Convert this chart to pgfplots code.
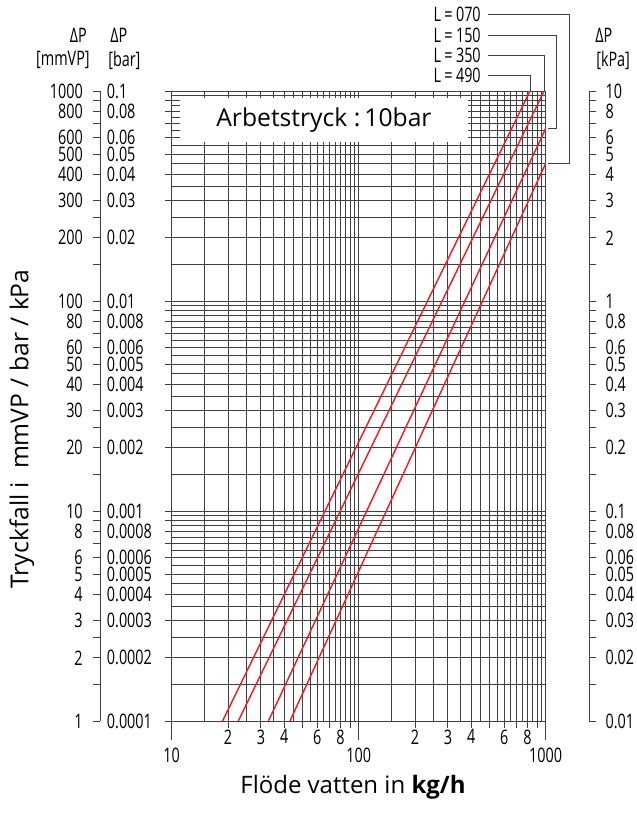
\documentclass[border=0pt]{standalone}
\usepackage{pgfplots}
\pgfplotsset{compat=1.18}
\usepackage{fontspec}
\setmainfont{Open Sans}
\newfontfamily\condfont[FakeStretch=0.72]{Open Sans}
\definecolor{gridc}{gray}{0.25}
\definecolor{redl}{RGB}{240,30,36}
\newcommand\tickfont{\condfont\fontsize{15}{16}\selectfont}
\begin{document}
\begin{tikzpicture}
\begin{scope}[x=0.75pt,y=0.75pt]
\path (0,0) rectangle (636,814);
\end{scope}
% ---------------- main chart ----------------
\begin{axis}[
  at={(128.775pt,69.75pt)}, anchor=south west,
  scale only axis, width=280.5pt, height=472.5pt,
  xmode=log, ymode=log, xmin=10, xmax=1000, ymin=1, ymax=1000,
  clip=false,
  axis line style={gridc, line width=0.7pt},
  every tick/.style={gridc, line width=0.7pt},
  tick align=outside,
  xtick pos=bottom, ytick pos=left,
  xtick={20,30,40,50,60,70,80,90,200,300,400,500,600,700,800,900},
  xticklabels={2,3,4,,6,,8,,2,3,4,,6,,8,},
  ytick={1,2,3,4,5,6,7,8,9,10,20,30,40,50,60,70,80,90,100,200,300,400,500,600,700,800,900,1000},
  yticklabels={},
  major tick length=5.25pt,
  minor tick length=0pt,
  minor xtick={15,25,35,45,55,65,75,85,95,150,250,350,450,550,650,750,850,950},
  minor ytick={1.5,2.5,3.5,4.5,5.5,6.5,7.5,8.5,9.5,15,25,35,45,55,65,75,85,95,150,250,350,450,550,650,750,850,950},
  grid=both,
  major grid style={gridc, line width=0.65pt},
  minor grid style={gridc, line width=0.65pt},
  xticklabel style={font=\tickfont, inner sep=1pt},
  extra x ticks={10,100,1000},
  extra x tick labels={10,100,1000},
  extra x tick style={grid=major, major tick length=14.25pt, xticklabel style={font=\tickfont, inner sep=1pt, yshift=-4.5pt}},
]
\fill[white] (axis cs:11.1,572) rectangle (axis cs:384,926);
\node[font=\fontsize{18.5}{20}\selectfont] at (axis cs:65.2,728) {Arbetstryck :\,10bar};
\addplot[redl, line width=1.1pt] coordinates {(18.7,1) (824,1000)};  % L=490
\addplot[redl, line width=1.1pt] coordinates {(22.7,1) (980,1000)};  % L=350
\addplot[redl, line width=1.1pt] coordinates {(32.9,1) (1000,664)};  % L=150
\addplot[redl, line width=1.1pt] coordinates {(42.9,1) (1000,453)};  % L=070
\end{axis}
% ---------------- left scale: mmVP ----------------
\begin{axis}[
  at={(75pt,69.75pt)}, anchor=south west,
  scale only axis, width=0.75pt, height=472.5pt,
  ymode=log, ymin=1, ymax=1000, xmin=0, xmax=1,
  hide x axis, axis y line*=left,
  y axis line style={gridc, line width=0.7pt, -},
  every tick/.style={gridc, line width=0.7pt},
  tick align=outside, major tick length=5.25pt, minor tick length=0pt,
  ytick={1,2,3,4,5,6,8,10,20,30,40,50,60,80,100,200,300,400,500,600,800,1000},
  yticklabels={1,2,3,4,5,6,8,10,20,30,40,50,60,80,100,200,300,400,500,600,800,1000},
  extra y ticks={1.5,2.5,7,9,15,25,70,90,150,250,700,900},
  extra y tick labels={},
  yticklabel style={font=\tickfont, inner sep=2pt, xshift=-5.5pt},
]
\end{axis}
% ---------------- left scale: bar labels ----------------
\begin{axis}[
  at={(74.25pt,69.75pt)}, anchor=south west,
  scale only axis, width=0.75pt, height=472.5pt,
  ymode=log, ymin=1, ymax=1000, xmin=0, xmax=1,
  hide x axis, axis y line*=right,
  y axis line style={draw=none},
  major tick length=0pt, minor tick length=0pt,
  ytick={1,2,3,4,5,6,8,10,20,30,40,50,60,80,100,200,300,400,500,600,800,1000},
  yticklabels={0.0001,0.0002,0.0003,0.0004,0.0005,0.0006,0.0008,0.001,0.002,0.003,0.004,0.005,0.006,0.008,0.01,0.02,0.03,0.04,0.05,0.06,0.08,0.1},
  yticklabel style={font=\tickfont, inner sep=5pt},
]
\end{axis}
% ---------------- right scale: kPa ----------------
\begin{axis}[
  at={(441pt,69.75pt)}, anchor=south west,
  scale only axis, width=0.75pt, height=472.5pt,
  ymode=log, ymin=1, ymax=1000, xmin=0, xmax=1,
  hide x axis, axis y line*=right,
  y axis line style={gridc, line width=0.7pt, -},
  every tick/.style={gridc, line width=0.7pt},
  tick align=outside, major tick length=5.25pt, minor tick length=0pt,
  ytick={1,2,3,4,5,6,8,10,20,30,40,50,60,80,100,200,300,400,500,600,800,1000},
  yticklabels={0.01,0.02,0.03,0.04,0.05,0.06,0.08,0.1,0.2,0.3,0.4,0.5,0.6,0.8,1,2,3,4,5,6,8,10},
  extra y ticks={1.5,2.5,7,9,15,25,70,90,150,250,700,900},
  extra y tick labels={},
  yticklabel style={font=\tickfont, inner sep=2pt, xshift=5pt},
]
\end{axis}
\begin{scope}[x=0.75pt,y=0.75pt]
% ---------------- headers ----------------
\begin{scope}[every node/.style={font=\tickfont, inner sep=0pt}]
\node[anchor=east] at (87,779) {ΔP};
\node[anchor=east] at (90,754) {[mmVP]};
\node[anchor=west] at (110,779) {ΔP};
\node[anchor=west] at (108,754) {[bar]};
\node[anchor=west] at (595,779) {ΔP};
\node[anchor=west] at (596,754) {[kPa]};
\node[anchor=east] at (481,800) {L\,=\,070};
\node[anchor=east] at (481,779) {L\,=\,150};
\node[anchor=east] at (481,759) {L\,=\,350};
\node[anchor=east] at (481,739) {L\,=\,490};
\end{scope}
% leader lines
\begin{scope}[gridc, line width=0.7pt]
\draw (488,800) -- (569.3,800) -- (569.3,650.7) -- (548,650.7);
\draw (488,779) -- (556,779) -- (556,686) -- (548,686);
\draw (488,759) -- (544,759) -- (544,723);
\draw (488,739) -- (530,739) -- (530,723);
\end{scope}
% axis titles
\node[rotate=90, font=\fontsize{18.5}{20}\selectfont] at (22,385) {Tryckfall i\ \ mmVP / bar / kPa};
\node[font=\fontsize{18}{20}\selectfont] at (353,27) {Flöde vatten in \textbf{kg/h}};
\end{scope}
\end{tikzpicture}
\end{document}
